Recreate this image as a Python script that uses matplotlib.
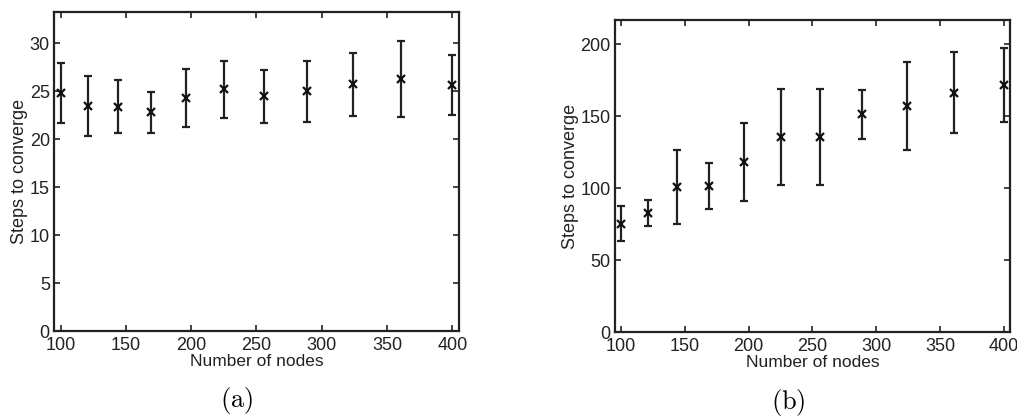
import matplotlib
matplotlib.use("Agg")
import matplotlib.pyplot as plt

# Data
nodes = [100, 121, 144, 169, 196, 225, 256, 289, 324, 361, 400]
steps_a = [24.8, 23.45, 23.36, 22.79, 24.30, 25.18, 24.44, 24.99, 25.70, 26.28, 25.64]
err_a = [3.12, 3.10, 2.76, 2.12, 3.04, 2.95, 2.73, 3.17, 3.26, 3.94, 3.16]
steps_b = [75.2, 83.0, 100.6, 101.7, 118.4, 135.8, 135.6, 151.5, 157.2, 166.4, 171.5]
err_b = [12.2, 9.0, 25.7, 16.0, 27.3, 33.4, 33.1, 17.1, 30.4, 28.3, 25.7]
xticks = [100, 150, 200, 250, 300, 350, 400]
yticks_a = [0, 5, 10, 15, 20, 25, 30]
yticks_b = [0, 50, 100, 150, 200]

plt.rcParams['font.family'] = ['Liberation Sans', 'DejaVu Sans']
plt.rcParams['mathtext.fontset'] = 'cm'

fig = plt.figure(figsize=(10.17, 4.18), dpi=100)
ax1 = fig.add_axes([0.0531, 0.2081, 0.3982, 0.7625])
ax2 = fig.add_axes([0.6044, 0.2057, 0.3890, 0.7465])

def style(ax, y, e, ylim, yticks):
    ax.errorbar(nodes, y, yerr=e, fmt='x', color='#111111', ecolor='#222222',
                elinewidth=1.6, capsize=3, capthick=1.6, markersize=6, markeredgewidth=1.6)
    ax.set_xlim(95, 405)
    ax.set_ylim(*ylim)
    ax.set_xticks(xticks)
    ax.set_yticks(yticks)
    ax.tick_params(direction='in', top=True, right=True, length=4, width=1.2,
                   labelsize=13, colors='#222222')
    ax.tick_params(axis='x', pad=4)
    ax.tick_params(axis='y', pad=3)
    for s in ax.spines.values():
        s.set_linewidth(1.6)
        s.set_color('#222222')
    ax.set_xlabel('Number of nodes', fontsize=12.5, color='#222222', labelpad=0.5)
    ax.set_ylabel('Steps to converge', fontsize=13, color='#222222', labelpad=1)

style(ax1, steps_a, err_a, (0, 33.2), yticks_a)
style(ax2, steps_b, err_b, (0, 217), yticks_b)

fig.text(237 / 1017, 1 - 400 / 418, r'$\mathrm{(a)}$', ha='center', va='center', fontsize=19)
fig.text(788 / 1017, 1 - 402 / 418, r'$\mathrm{(b)}$', ha='center', va='center', fontsize=19)

fig.savefig('out.png', dpi=100)
